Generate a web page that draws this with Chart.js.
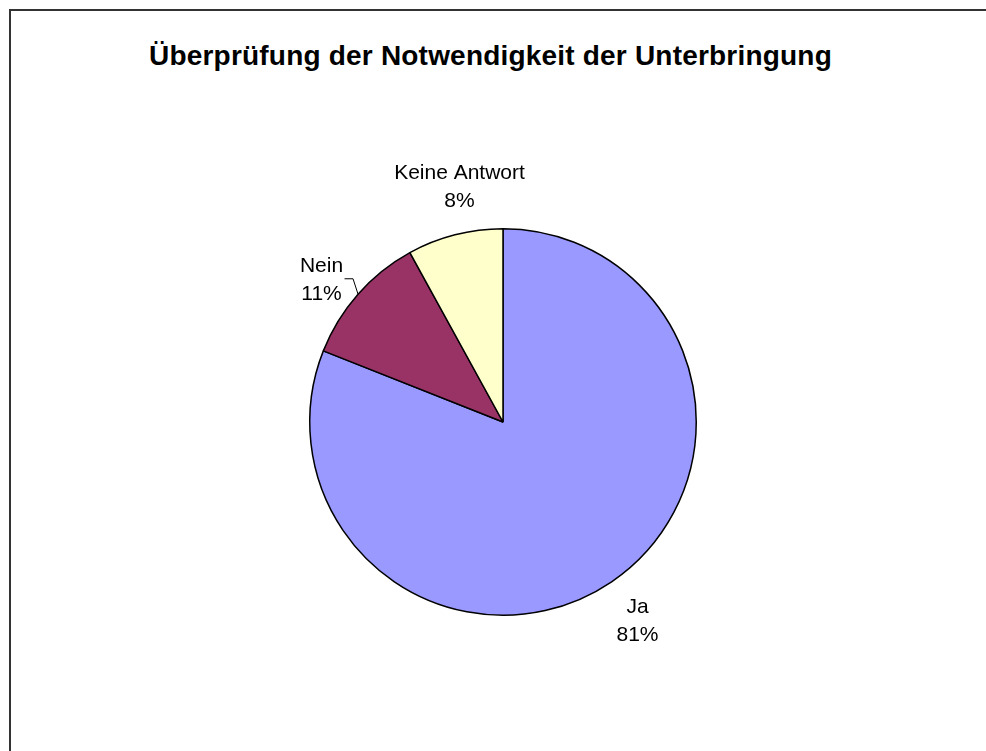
<!DOCTYPE html>
<html>
<head>
<meta charset="utf-8">
<script src="https://cdn.jsdelivr.net/npm/chart.js@4.4.1/dist/chart.umd.min.js"></script>
<style>
  html, body { margin: 0; padding: 0; background: #fff; }
  #wrap { position: relative; width: 986px; height: 751px; overflow: hidden; }
  #frame { position: absolute; left: 9px; top: 9px; width: 990px; height: 760px;
           border-top: 2px solid #333; border-left: 2px solid #333; }
  #title { position: absolute; left: 0; width: 981px; top: 40px; text-align: center;
           font: bold 28px "Liberation Sans", Arial, sans-serif; letter-spacing: 0.2px; color: #000; }
  #pie { position: absolute; left: 0; top: 0; }
</style>
</head>
<body>
<div id="wrap">
  <div id="frame"></div>
  <div id="title">Überprüfung der Notwendigkeit der Unterbringung</div>
  <canvas id="pie" width="986" height="751"></canvas>
</div>
<script>
// ── Data ────────────────────────────────────────────────────────────
const LABELS = ["Ja", "Nein", "Keine Antwort"];
const VALUES = [81, 11, 8];
const COLORS = ["#9999FF", "#993366", "#FFFFCC"];

// ── Slice labels, Excel style (name above, percent below) ──────────
const sliceLabels = {
    id: "sliceLabels",
    afterDatasetsDraw(chart, args, opts) {
        const ctx  = chart.ctx;
        const meta = chart.getDatasetMeta(0);
        const total = VALUES.reduce((a, b) => a + b, 0);
        ctx.save();
        ctx.font = '21px "Liberation Sans", Arial, sans-serif';
        ctx.fillStyle = "#000";
        ctx.textAlign = "center";
        ctx.textBaseline = "middle";
        meta.data.forEach((arc, i) => {
            const p   = arc.getProps(["x", "y", "startAngle", "endAngle", "outerRadius"], true);
            const mid = (p.startAngle + p.endAngle) / 2;
            const nudge = opts.nudge[i] || [0, 0];
            const d   = p.outerRadius + opts.distance;
            const lx  = p.x + Math.cos(mid) * d + nudge[0];
            const ly  = p.y + Math.sin(mid) * d + nudge[1];
            const pct = Math.round(VALUES[i] / total * 100) + "%";
            ctx.fillText(LABELS[i], lx, ly - 13);
            ctx.fillText(pct, lx, ly + 15);
            if (opts.leader[i]) {
                // leader line from slice edge to label's right side
                const ex = p.x + Math.cos(mid) * p.outerRadius;
                const ey = p.y + Math.sin(mid) * p.outerRadius;
                ctx.beginPath();
                ctx.strokeStyle = "#000";
                ctx.lineWidth = 1;
                ctx.moveTo(ex, ey);
                ctx.lineTo(ex - 5, ly);
                ctx.lineTo(lx + 23, ly);
                ctx.stroke();
            }
        });
        ctx.restore();
    }
};

new Chart(document.getElementById("pie"), {
    type: "pie",
    data: {
        labels: LABELS,
        datasets: [{
            data: VALUES,
            backgroundColor: COLORS,
            borderColor: "#000",
            borderWidth: 1.5,
        }],
    },
    options: {
        responsive: false,
        animation: false,
        events: [],
        layout: { padding: { left: 309, right: 289, top: 228, bottom: 135 } },
        plugins: {
            legend: { display: false },
            tooltip: { enabled: false },
            title: { display: false },
            sliceLabels: {
                distance: 46,
                nudge: [[0, 0], [-2, 15], [16, -4]],
                leader: [false, true, false],
            },
        },
    },
    plugins: [sliceLabels],
});
</script>
</body>
</html>
